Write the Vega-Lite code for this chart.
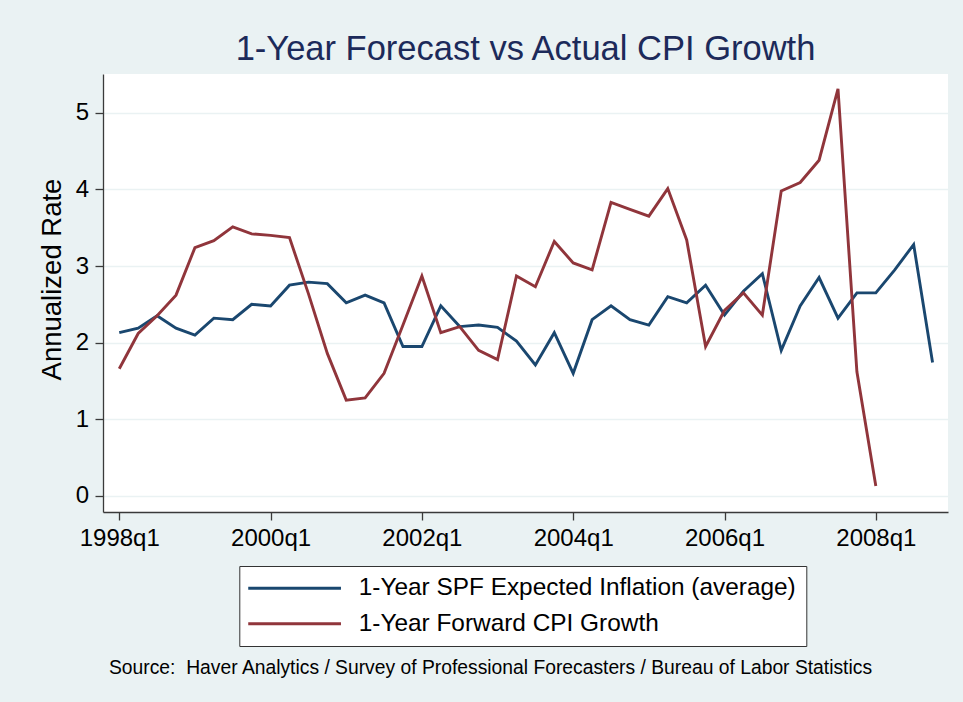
{
  "$schema": "https://vega.github.io/schema/vega-lite/v6.json",
  "autosize": {"type": "none"},
  "padding": {"left": 103, "top": 74, "right": 15, "bottom": 190},
  "width": 845,
  "height": 438,
  "background": "#EAF2F3",
  "view": {"fill": "white", "stroke": null},
  "title": {
    "text": "1-Year Forecast vs Actual CPI Growth",
    "font": "Liberation Sans",
    "fontSize": 34.5,
    "fontWeight": "normal",
    "color": "#1C2A5A",
    "anchor": "middle",
    "frame": "group",
    "baseline": "alphabetic",
    "offset": -20
  },
  "data": {
    "values": [
      {"year": 1998.00, "series": "1-Year SPF Expected Inflation (average)", "value": 2.13},
      {"year": 1998.25, "series": "1-Year SPF Expected Inflation (average)", "value": 2.19},
      {"year": 1998.50, "series": "1-Year SPF Expected Inflation (average)", "value": 2.35},
      {"year": 1998.75, "series": "1-Year SPF Expected Inflation (average)", "value": 2.19},
      {"year": 1999.00, "series": "1-Year SPF Expected Inflation (average)", "value": 2.10},
      {"year": 1999.25, "series": "1-Year SPF Expected Inflation (average)", "value": 2.32},
      {"year": 1999.50, "series": "1-Year SPF Expected Inflation (average)", "value": 2.30},
      {"year": 1999.75, "series": "1-Year SPF Expected Inflation (average)", "value": 2.50},
      {"year": 2000.00, "series": "1-Year SPF Expected Inflation (average)", "value": 2.48},
      {"year": 2000.25, "series": "1-Year SPF Expected Inflation (average)", "value": 2.75},
      {"year": 2000.50, "series": "1-Year SPF Expected Inflation (average)", "value": 2.79},
      {"year": 2000.75, "series": "1-Year SPF Expected Inflation (average)", "value": 2.77},
      {"year": 2001.00, "series": "1-Year SPF Expected Inflation (average)", "value": 2.52},
      {"year": 2001.25, "series": "1-Year SPF Expected Inflation (average)", "value": 2.62},
      {"year": 2001.50, "series": "1-Year SPF Expected Inflation (average)", "value": 2.52},
      {"year": 2001.75, "series": "1-Year SPF Expected Inflation (average)", "value": 1.95},
      {"year": 2002.00, "series": "1-Year SPF Expected Inflation (average)", "value": 1.95},
      {"year": 2002.25, "series": "1-Year SPF Expected Inflation (average)", "value": 2.48},
      {"year": 2002.50, "series": "1-Year SPF Expected Inflation (average)", "value": 2.21},
      {"year": 2002.75, "series": "1-Year SPF Expected Inflation (average)", "value": 2.23},
      {"year": 2003.00, "series": "1-Year SPF Expected Inflation (average)", "value": 2.20},
      {"year": 2003.25, "series": "1-Year SPF Expected Inflation (average)", "value": 2.02},
      {"year": 2003.50, "series": "1-Year SPF Expected Inflation (average)", "value": 1.71},
      {"year": 2003.75, "series": "1-Year SPF Expected Inflation (average)", "value": 2.13},
      {"year": 2004.00, "series": "1-Year SPF Expected Inflation (average)", "value": 1.60},
      {"year": 2004.25, "series": "1-Year SPF Expected Inflation (average)", "value": 2.30},
      {"year": 2004.50, "series": "1-Year SPF Expected Inflation (average)", "value": 2.48},
      {"year": 2004.75, "series": "1-Year SPF Expected Inflation (average)", "value": 2.30},
      {"year": 2005.00, "series": "1-Year SPF Expected Inflation (average)", "value": 2.23},
      {"year": 2005.25, "series": "1-Year SPF Expected Inflation (average)", "value": 2.60},
      {"year": 2005.50, "series": "1-Year SPF Expected Inflation (average)", "value": 2.52},
      {"year": 2005.75, "series": "1-Year SPF Expected Inflation (average)", "value": 2.75},
      {"year": 2006.00, "series": "1-Year SPF Expected Inflation (average)", "value": 2.36},
      {"year": 2006.25, "series": "1-Year SPF Expected Inflation (average)", "value": 2.67},
      {"year": 2006.50, "series": "1-Year SPF Expected Inflation (average)", "value": 2.90},
      {"year": 2006.75, "series": "1-Year SPF Expected Inflation (average)", "value": 1.90},
      {"year": 2007.00, "series": "1-Year SPF Expected Inflation (average)", "value": 2.48},
      {"year": 2007.25, "series": "1-Year SPF Expected Inflation (average)", "value": 2.85},
      {"year": 2007.50, "series": "1-Year SPF Expected Inflation (average)", "value": 2.32},
      {"year": 2007.75, "series": "1-Year SPF Expected Inflation (average)", "value": 2.65},
      {"year": 2008.00, "series": "1-Year SPF Expected Inflation (average)", "value": 2.65},
      {"year": 2008.25, "series": "1-Year SPF Expected Inflation (average)", "value": 2.95},
      {"year": 2008.50, "series": "1-Year SPF Expected Inflation (average)", "value": 3.28},
      {"year": 2008.75, "series": "1-Year SPF Expected Inflation (average)", "value": 1.74},
      {"year": 1998.00, "series": "1-Year Forward CPI Growth", "value": 1.66},
      {"year": 1998.25, "series": "1-Year Forward CPI Growth", "value": 2.12},
      {"year": 1998.50, "series": "1-Year Forward CPI Growth", "value": 2.35},
      {"year": 1998.75, "series": "1-Year Forward CPI Growth", "value": 2.62},
      {"year": 1999.00, "series": "1-Year Forward CPI Growth", "value": 3.24},
      {"year": 1999.25, "series": "1-Year Forward CPI Growth", "value": 3.33},
      {"year": 1999.50, "series": "1-Year Forward CPI Growth", "value": 3.51},
      {"year": 1999.75, "series": "1-Year Forward CPI Growth", "value": 3.42},
      {"year": 2000.00, "series": "1-Year Forward CPI Growth", "value": 3.40},
      {"year": 2000.25, "series": "1-Year Forward CPI Growth", "value": 3.37},
      {"year": 2000.50, "series": "1-Year Forward CPI Growth", "value": 2.64},
      {"year": 2000.75, "series": "1-Year Forward CPI Growth", "value": 1.86},
      {"year": 2001.00, "series": "1-Year Forward CPI Growth", "value": 1.25},
      {"year": 2001.25, "series": "1-Year Forward CPI Growth", "value": 1.28},
      {"year": 2001.50, "series": "1-Year Forward CPI Growth", "value": 1.60},
      {"year": 2001.75, "series": "1-Year Forward CPI Growth", "value": 2.23},
      {"year": 2002.00, "series": "1-Year Forward CPI Growth", "value": 2.87},
      {"year": 2002.25, "series": "1-Year Forward CPI Growth", "value": 2.13},
      {"year": 2002.50, "series": "1-Year Forward CPI Growth", "value": 2.21},
      {"year": 2002.75, "series": "1-Year Forward CPI Growth", "value": 1.90},
      {"year": 2003.00, "series": "1-Year Forward CPI Growth", "value": 1.78},
      {"year": 2003.25, "series": "1-Year Forward CPI Growth", "value": 2.87},
      {"year": 2003.50, "series": "1-Year Forward CPI Growth", "value": 2.73},
      {"year": 2003.75, "series": "1-Year Forward CPI Growth", "value": 3.32},
      {"year": 2004.00, "series": "1-Year Forward CPI Growth", "value": 3.04},
      {"year": 2004.25, "series": "1-Year Forward CPI Growth", "value": 2.95},
      {"year": 2004.50, "series": "1-Year Forward CPI Growth", "value": 3.83},
      {"year": 2004.75, "series": "1-Year Forward CPI Growth", "value": 3.74},
      {"year": 2005.00, "series": "1-Year Forward CPI Growth", "value": 3.65},
      {"year": 2005.25, "series": "1-Year Forward CPI Growth", "value": 4.01},
      {"year": 2005.50, "series": "1-Year Forward CPI Growth", "value": 3.34},
      {"year": 2005.75, "series": "1-Year Forward CPI Growth", "value": 1.95},
      {"year": 2006.00, "series": "1-Year Forward CPI Growth", "value": 2.42},
      {"year": 2006.25, "series": "1-Year Forward CPI Growth", "value": 2.65},
      {"year": 2006.50, "series": "1-Year Forward CPI Growth", "value": 2.36},
      {"year": 2006.75, "series": "1-Year Forward CPI Growth", "value": 3.98},
      {"year": 2007.00, "series": "1-Year Forward CPI Growth", "value": 4.09},
      {"year": 2007.25, "series": "1-Year Forward CPI Growth", "value": 4.38},
      {"year": 2007.50, "series": "1-Year Forward CPI Growth", "value": 5.31},
      {"year": 2007.75, "series": "1-Year Forward CPI Growth", "value": 1.62},
      {"year": 2008.00, "series": "1-Year Forward CPI Growth", "value": 0.13}
    ]
  },
  "mark": {"type": "line", "strokeWidth": 2.9, "clip": true},
  "encoding": {
    "x": {
      "field": "year",
      "type": "quantitative",
      "scale": {"domain": [1997.785, 2008.954], "nice": false, "zero": false},
      "axis": {
        "values": [1998, 2000, 2002, 2004, 2006, 2008],
        "labelExpr": "datum.value + 'q1'",
        "grid": false,
        "tickSize": 8,
        "tickWidth": 1.3,
        "tickColor": "#3a3a3a",
        "domainColor": "#3a3a3a",
        "domainWidth": 1.3,
        "labelFont": "Liberation Sans",
        "labelFontSize": 24,
        "labelColor": "black",
        "labelPadding": 6,
        "labelFlush": false,
        "labelOverlap": false,
        "title": "Source:\u00a0 Haver Analytics / Survey of Professional Forecasters / Bureau of Labor Statistics",
        "titleFont": "Liberation Sans",
        "titleFontSize": 19.3,
        "titleFontWeight": "normal",
        "titleColor": "black",
        "titleAlign": "left",
        "titleAnchor": null,
        "titleBaseline": "alphabetic",
        "titleX": 5.5,
        "titleY": 161.6
      }
    },
    "y": {
      "field": "value",
      "type": "quantitative",
      "scale": {"domain": [-0.209, 5.505], "nice": false, "zero": false},
      "axis": {
        "values": [0, 1, 2, 3, 4, 5],
        "grid": true,
        "gridColor": "#EAF2F3",
        "gridWidth": 1.6,
        "tickSize": 8,
        "tickWidth": 1.3,
        "tickColor": "#3a3a3a",
        "domainColor": "#3a3a3a",
        "domainWidth": 1.3,
        "labelFont": "Liberation Sans",
        "labelFontSize": 24,
        "labelColor": "black",
        "labelPadding": 6.5,
        "labelFlush": false,
        "labelOverlap": false,
        "title": "Annualized Rate",
        "titleFont": "Liberation Sans",
        "titleFontSize": 27.5,
        "titleFontWeight": "normal",
        "titleColor": "black",
        "titleAngle": 270,
        "titleAlign": "center",
        "titleAnchor": null,
        "titleBaseline": "middle",
        "titleX": -50.5,
        "titleY": 205
      }
    },
    "color": {
      "field": "series",
      "type": "nominal",
      "scale": {
        "domain": ["1-Year SPF Expected Inflation (average)", "1-Year Forward CPI Growth"],
        "range": ["#1A476F", "#90353B"]
      },
      "legend": {
        "orient": "none",
        "legendX": 136.3,
        "legendY": 492,
        "title": null,
        "symbolType": "M-1.43,0H8.57",
        "symbolSize": 344,
        "symbolStrokeWidth": 3,
        "labelFont": "Liberation Sans",
        "labelFontSize": 24.4,
        "labelColor": "black",
        "labelOffset": 85,
        "labelLimit": 0,
        "rowPadding": 10.5,
        "padding": 10,
        "fillColor": "white",
        "strokeColor": "#333333"
      }
    }
  }
}
